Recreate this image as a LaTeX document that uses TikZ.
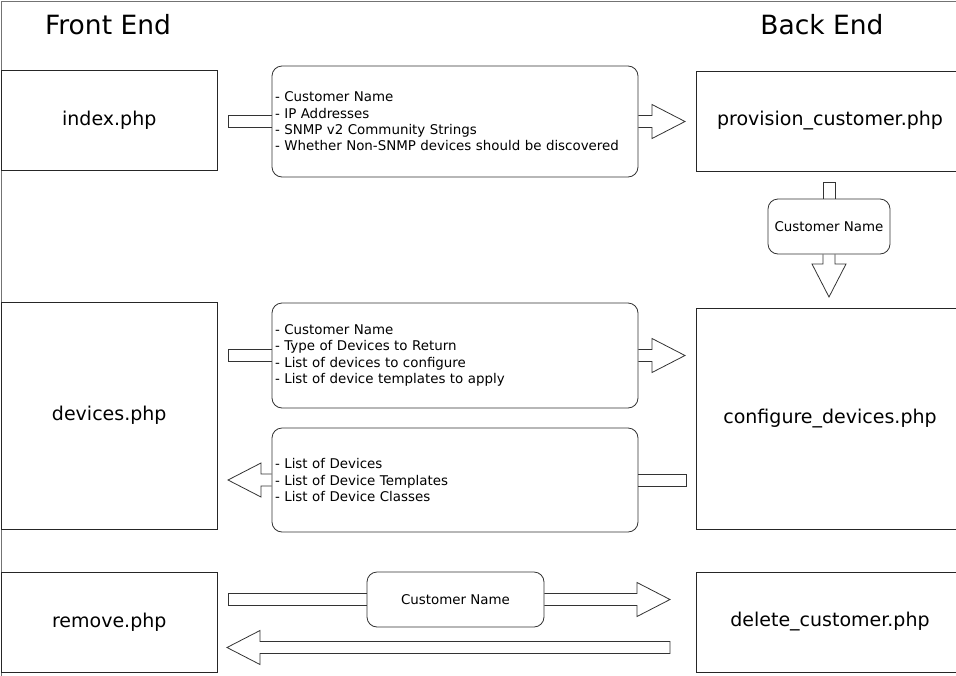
\documentclass[tikz,border=0pt]{standalone}
\usepackage{fontspec}
\setmainfont{DejaVu Sans}
\usetikzlibrary{calc}

\tikzset{
  page/.style={draw=black!55, line width=1pt},
  head/.style={font=\fontsize{26.5}{30}\selectfont},
  php/.style={draw=black!85, line width=0.8pt, inner sep=0pt, font=\fontsize{19}{23}\selectfont},
  info/.style={draw=black!80, rounded corners=10pt, line width=0.8pt, fill=white, inner sep=3pt, font=\fontsize{13.4}{16.3}\selectfont},
  fat/.style={draw=black!80, line width=0.8pt},
}

% block arrow from #2 (open end) to the tip #3
\newcommand{\fatarrow}[3][]{%
  \coordinate (hb) at ($(#3)!33pt!(#2)$);
  \draw[fat] ($(#2)!6pt!90:(#3)$) -- ($(hb)!6pt!-90:(#2)$) -- ($(hb)!17pt!-90:(#2)$) -- (#3)
    -- ($(hb)!17pt!90:(#2)$) -- ($(hb)!6pt!90:(#2)$) -- ($(#2)!6pt!-90:(#3)$) #1;}
% shaft only, closed at #1, open at #2
\newcommand{\fatshaft}[2]{%
  \draw[fat] ($(#2)!6pt!90:(#1)$) -- ($(#1)!6pt!-90:(#2)$) -- ($(#1)!6pt!90:(#2)$) -- ($(#2)!6pt!-90:(#1)$);}

\begin{document}
\begin{tikzpicture}[x=1pt,y=-1pt]
  \useasboundingbox (0,0) rectangle (956,675);
  \clip (0,0) rectangle (956,675);
  \draw[page] (960,1.5) -- (1.5,1.5) -- (1.5,680);

  \node[head] (fronthead) at (108,25) {Front End};
  \node[head] (backhead) at (822,25) {Back End};

  % php pages
  \node[php, minimum width=215.5pt, minimum height=100pt] (index) at (109.25,120) {index.php};
  \node[php, minimum width=268pt, minimum height=100pt] (provision) at (830,121) {provision\_customer.php};
  \node[php, minimum width=215.5pt, minimum height=227pt] (devices) at (109.25,415.5) {devices.php};
  \node[php, minimum width=268pt, minimum height=221pt] (configure) at (830,418.5) {configure\_devices.php};
  \node[php, minimum width=215.5pt, minimum height=100pt] (remove) at (109.25,622) {remove.php};
  \node[php, minimum width=268pt, minimum height=100pt] (delete) at (830,622) {delete\_customer.php};

  % what is passed
  \node[info, text width=360pt, align=left, minimum height=111pt] (provinfo) at (455,121.5)
    {- Customer Name\\- IP Addresses\\- SNMP v2 Community Strings\\- Whether Non-SNMP devices should be discovered};
  \node[info, minimum width=122pt, minimum height=55pt] (custname) at (829,226.5) {Customer Name};
  \node[info, text width=360pt, align=left, minimum height=105pt] (devreq) at (455,355.5)
    {- Customer Name\\- Type of Devices to Return\\- List of devices to configure\\- List of device templates to apply};
  \node[info, text width=360pt, align=left, minimum height=104pt] (devreply) at (455,480)
    {- List of Devices\\- List of Device Templates\\- List of Device Classes};
  \node[info, minimum width=177pt, minimum height=55pt] (delname) at (455.5,599.5) {Customer Name};

  \coordinate (a1) at (228,121.5);
  \coordinate (t1) at (685,121.5);
  \coordinate (a2) at (829,182);
  \coordinate (t2) at (829,297);
  \coordinate (a3) at (228,355.5);
  \coordinate (t3) at (685,355.5);
  \coordinate (a4) at (686,480);
  \coordinate (t4) at (228,480);
  \coordinate (a5) at (228,599.5);
  \coordinate (t5) at (670,599.5);
  \coordinate (a6) at (670,647.5);
  \coordinate (t6) at (227,647.5);

  \fatshaft{a1}{provinfo.west}
  \fatarrow{provinfo.east}{t1}
  \fatshaft{a2}{custname.north}
  \fatarrow{custname.south}{t2}
  \fatshaft{a3}{devreq.west}
  \fatarrow{devreq.east}{t3}
  \fatshaft{a4}{devreply.east}
  \fatarrow{devreply.west}{t4}
  \fatshaft{a5}{delname.west}
  \fatarrow{delname.east}{t5}
  \fatarrow[-- cycle]{a6}{t6}
\end{tikzpicture}
\end{document}
